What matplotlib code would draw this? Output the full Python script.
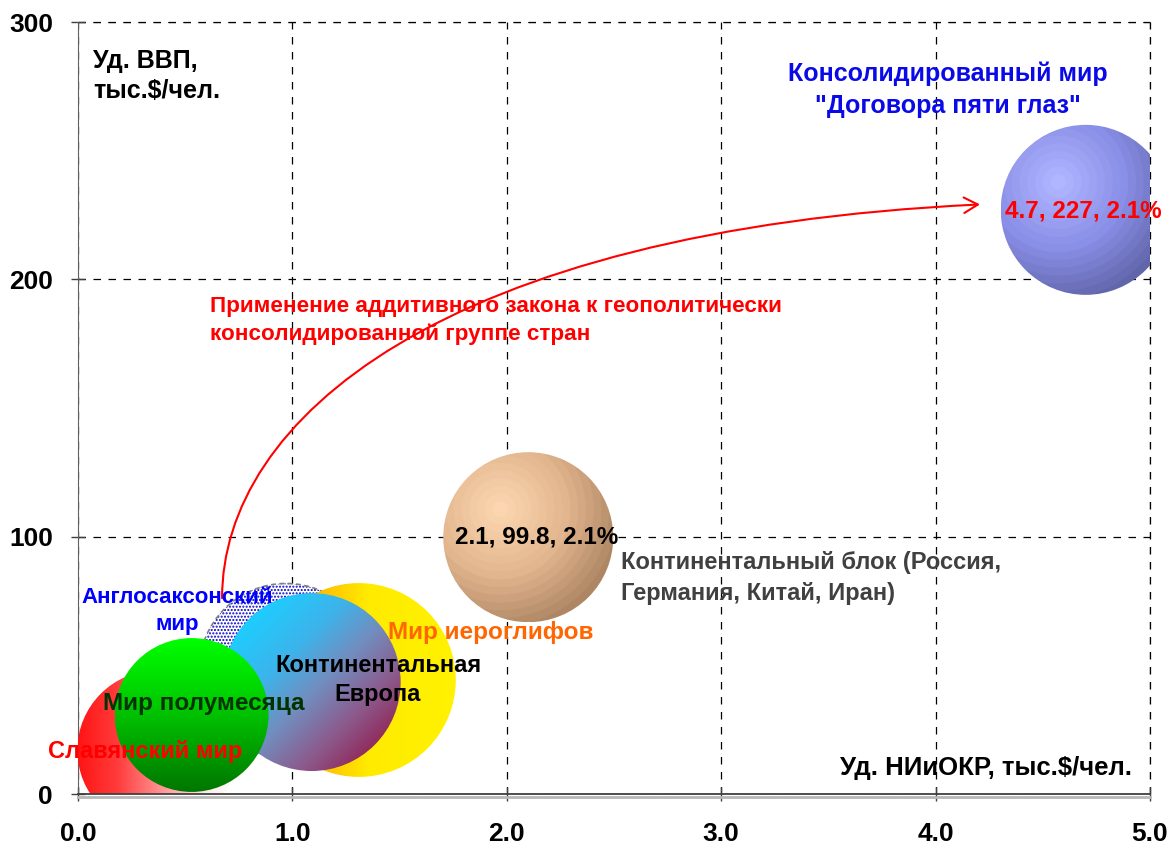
import numpy as np
import matplotlib
matplotlib.use("Agg")
import matplotlib.pyplot as plt
from matplotlib.patches import Circle, FancyArrowPatch
from matplotlib.path import Path
from matplotlib.transforms import ScaledTranslation

plt.rcParams['font.family'] = ['Liberation Sans', 'DejaVu Sans']
plt.rcParams['font.weight'] = 'bold'

# ---------------- data ----------------
groups = ["Англосаксонский мир", "Мир иероглифов", "Континентальная Европа",
          "Славянский мир", "Мир полумесяца", "Континентальный блок",
          "Консолидированный мир"]
niokr = [0.97, 1.31, 1.09, 0.37, 0.53, 2.1, 4.7]        # Уд. НИиОКР, тыс.$/чел.
vvp = [48.0, 44.3, 43.5, 17.0, 30.7, 99.8, 227.0]        # Уд. ВВП, тыс.$/чел.
share = [2.2, 2.73, 2.30, 1.86, 1.72, 2.1, 2.1]          # bubble size, %
fills = ["dots", "orange_yellow", "blue_purple", "red_white", "green",
         "tan_sphere", "blue_sphere"]

x_ticks = [0.0, 1.0, 2.0, 3.0, 4.0, 5.0]
x_ticklabels = ["0.0", "1.0", "2.0", "3.0", "4.0", "5.0"]
y_ticks = [0, 100, 200, 300]
y_ticklabels = ["0", "100", "200", "300"]

# ---------------- figure ----------------
W, H = 1167, 846
fig = plt.figure(figsize=(W / 100, H / 100), dpi=100)
ax = fig.add_axes([78 / W, 1 - 794 / H, (1150 - 78) / W, (794 - 22) / H])
ax.set_xlim(0, 5)
ax.set_ylim(0, 300)
ax.set_autoscale_on(False)

ax.set_xticks(x_ticks)
ax.set_xticklabels(x_ticklabels, fontsize=19, fontweight='bold')
ax.set_yticks(y_ticks)
ax.set_yticklabels(y_ticklabels, fontsize=19, fontweight='bold')
ax.tick_params(axis='x', direction='inout', length=10, width=1, color='#404040', pad=15)
ax.tick_params(axis='y', direction='inout', length=10, width=1, color='#404040', pad=13)
ax.grid(True, color='black', linestyle=(0, (6, 6)), linewidth=0.9, zorder=0)
ax.set_axisbelow(True)
for s in ['top', 'right']:
    ax.spines[s].set_visible(False)
ax.spines['left'].set_color('#606060')
ax.spines['bottom'].set_color('#404040')
ax.spines['bottom'].set_linewidth(1.3)
ax.spines['bottom'].set_zorder(30)

# top/right dashed borders are the 300 / 5.0 gridlines
ax.axhline(300, color='black', linestyle=(0, (6, 6)), linewidth=0.9, zorder=0, clip_on=False)
ax.axvline(5.0, color='black', linestyle=(0, (6, 6)), linewidth=0.9, zorder=0, clip_on=False)
# light shadow under the x axis
ax.plot([0, 5], [0, 0], color='#B8B8B8', linewidth=2, clip_on=False, zorder=29,
        transform=ax.transData + ScaledTranslation(0, -2.5 / 100, fig.dpi_scale_trans))

ppu = ax.transData.transform((1, 1)) - ax.transData.transform((0, 0))
R_REF = 85.0  # pixel radius of a 2.1 % bubble


def lerp_stops(t, stops):
    t = np.clip(t, 0, 1)
    pos = np.array([p for p, _ in stops])
    cols = np.array([c for _, c in stops], dtype=float) / 255.0
    out = np.empty(t.shape + (3,))
    for k in range(3):
        out[..., k] = np.interp(t, pos, cols[:, k])
    return out


def gradient(kind, n=320):
    g = np.linspace(-1, 1, n)
    u, v = np.meshgrid(g, g)   # v up (origin lower)
    if kind == "red_white":
        t = (u + 1) / 2
        return lerp_stops(t, [(0, (255, 20, 20)), (0.25, (255, 60, 60)),
                              (0.8, (255, 235, 235)), (1, (255, 255, 255))])
    if kind == "green":
        t = (1 - v) / 2
        return lerp_stops(t, [(0, (0, 255, 0)), (0.45, (0, 200, 0)), (1, (0, 118, 0))])
    if kind == "blue_purple":
        t = (u - v + np.sqrt(2)) / (2 * np.sqrt(2))
        return lerp_stops(t, [(0, (30, 205, 255)), (0.3, (60, 180, 235)),
                              (0.55, (115, 140, 190)), (0.8, (140, 90, 140)),
                              (1, (145, 45, 95))])
    if kind == "orange_yellow":
        t = (u + 1) / 2
        return lerp_stops(t, [(0, (255, 140, 0)), (0.3, (255, 190, 0)),
                              (0.55, (255, 235, 0)), (1, (255, 242, 0))])
    if kind in ("tan_sphere", "blue_sphere"):
        hx, hy = -0.33, 0.32
        d = np.hypot(u - hx, v - hy) / (1 + np.hypot(hx, hy))
        d = np.floor(np.clip(d, 0, 1) * 16) / 16
        if kind == "tan_sphere":
            stops = [(0, (252, 214, 176)), (0.5, (226, 182, 142)), (1, (168, 128, 94))]
        else:
            stops = [(0, (176, 182, 255)), (0.5, (138, 143, 232)), (1, (92, 96, 162))]
        return lerp_stops(d, stops)
    return np.ones((n, n, 3))


for i, (x, y, s, kind) in enumerate(zip(niokr, vvp, share, fills)):
    r_px = R_REF * np.sqrt(s / 2.1)
    trans = fig.dpi_scale_trans + ScaledTranslation(x, y, ax.transData)
    z = 2 + i
    if kind == "dots":
        base = Circle((0, 0), r_px / 100, transform=trans, facecolor='white',
                      edgecolor='#0000CC', hatch='.....', linewidth=0, zorder=z)
        ax.add_patch(base)
        outline = Circle((0, 0), r_px / 100, transform=trans, facecolor='none',
                         edgecolor='#808080', linestyle=(0, (3, 2)), linewidth=1.2, zorder=z)
        ax.add_patch(outline)
        continue
    circ = Circle((0, 0), r_px / 100, transform=trans)
    dx, dy = r_px / ppu[0], r_px / ppu[1]
    im = ax.imshow(gradient(kind), extent=[x - dx, x + dx, y - dy, y + dy],
                   origin='lower', aspect='auto', interpolation='bilinear', zorder=z)
    im.set_clip_path(circ)

ax.set_xlim(0, 5)
ax.set_ylim(0, 300)

# ---------------- labels ----------------
lab = dict(fontweight='bold', zorder=20)
ax.text(0.07, 289.5, "Уд. ВВП,\nтыс.$/чел.", fontsize=18, color='black', ha='left', va='top',
        linespacing=1.3, **lab)
ax.text(4.916, 10.1, "Уд. НИиОКР, тыс.$/чел.", fontsize=18.5, color='black', ha='right',
        va='center', **lab)
ax.text(4.058, 273.8, "Консолидированный мир\n\"Договора пяти глаз\"", fontsize=18,
        color='#0A0AE8', ha='center', va='center', linespacing=1.42, **lab)
ax.text(niokr[6] - 0.01, vvp[6] - 0.5, f"{niokr[6]}, {vvp[6]:g}, {share[6]}%", fontsize=17.5,
        color='#FF0000', ha='center', va='center', **lab)
ax.text(niokr[5] + 0.04, vvp[5], f"{niokr[5]}, {vvp[5]}, {share[5]}%", fontsize=17.5,
        color='black', ha='center', va='center', **lab)
ax.text(2.533, 83.9, "Континентальный блок (Россия,\nГермания, Китай, Иран)", fontsize=17,
        color='#404040', ha='left', va='center', linespacing=1.42, **lab)
ax.text(0.616, 184.1, "Применение аддитивного закона к геополитически\nконсолидированной группе стран",
        fontsize=16.2, color='#FF0000', ha='left', va='center', linespacing=1.4, **lab)
ax.text(0.462, 71.2, "Англосаксонский\nмир", fontsize=16, color='#0000FF', ha='center',
        va='center', linespacing=1.4, **lab)
ax.text(1.446, 62.9, "Мир иероглифов", fontsize=17.5, color='#FF6600', ha='left', va='center', **lab)
ax.text(1.399, 44.2, "Континентальная\nЕвропа", fontsize=17, color='black', ha='center',
        va='center', linespacing=1.35, **lab)
ax.text(0.588, 35.3, "Мир полумесяца", fontsize=17.5, color='#003300', ha='center', va='center', **lab)
ax.text(0.313, 16.7, "Славянский мир", fontsize=17, color='#FF0000', ha='center', va='center', **lab)

# ---------------- curved arrow ----------------
verts = [(0.672, 76.1), (0.672, 145.2), (1.688, 219.0), (4.207, 229.1)]
codes = [Path.MOVETO, Path.CURVE4, Path.CURVE4, Path.CURVE4]
arrow = FancyArrowPatch(path=Path(verts, codes), arrowstyle='->,head_length=0.5,head_width=0.28',
                        mutation_scale=20, color='#FF0000', linewidth=1.5, zorder=15)
ax.add_patch(arrow)

fig.savefig("out.png", dpi=100)
